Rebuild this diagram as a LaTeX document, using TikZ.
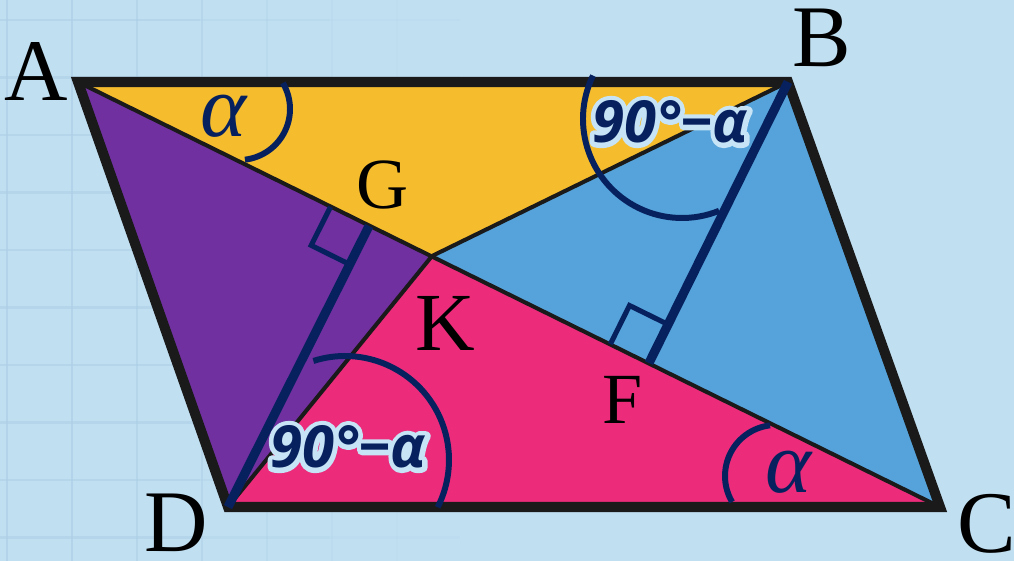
\documentclass[tikz,border=0pt]{standalone}
\usepackage{fontspec}
\setmainfont{Liberation Serif}
\newfontfamily\lblfont{Open Sans}
\usetikzlibrary{calc}
\definecolor{bgblue}{HTML}{C0DFF1}
\definecolor{gridblue}{HTML}{ADCFE6}
\definecolor{navy}{HTML}{07215F}
\definecolor{edge}{HTML}{1A1A1A}
\definecolor{fyellow}{HTML}{F5BD2E}
\definecolor{fpurple}{HTML}{70309F}
\definecolor{fblue}{HTML}{55A3DA}
\definecolor{fpink}{HTML}{EC2C7B}
% text with a light-blue halo: stroked copy underneath, filled copy on top
\newcommand\halotext[1]{\leavevmode\rlap{\special{pdf:literal direct 1 Tr 5.5 w 1 j 1 J 0.776 0.894 0.965 RG}#1\special{pdf:literal direct 0 Tr}}#1}
\tikzset{
  gridline/.style={gridblue, line width=1.2pt},
  outline/.style={edge, line width=5.7pt, line join=miter},
  inner/.style={edge, line width=2.3pt},
  perp/.style={navy, line width=5.2pt},
  rightsq/.style={navy, line width=2.9pt, line join=miter},
  anglearc/.style={navy, line width=3.4pt},
  vlabel/.style={inner sep=0pt, font=\fontsize{50}{60}\selectfont},
  plabel/.style={inner sep=0pt, font=\fontsize{41}{50}\selectfont},
  alabel/.style={inner sep=0pt, text=navy, font=\fontsize{50}{60}\selectfont\itshape},
  dlabel/.style={inner sep=0pt, text=navy, font=\fontsize{33}{40}\selectfont\lblfont\bfseries\itshape}
}
\begin{document}
\begin{tikzpicture}[x=0.02cm, y=-0.02cm]
\useasboundingbox (0,0) rectangle (1014,561);
\fill[bgblue] (0,0) rectangle (1014,561);
% faint grid, fading to the right
\foreach \k/\op in {0/0.7,1/0.7,2/0.6,3/0.5,4/0.35,5/0.2,6/0.1}{
  \draw[gridline, opacity=\op] ({7+65*\k},0) -- ({7+65*\k},561);
}
\foreach \k in {0,...,9}{
  \draw[gridline, opacity=0.6] (0,{20+57.5*\k}) -- (200,{20+57.5*\k});
  \draw[gridline, opacity=0.35] (200,{20+57.5*\k}) -- (330,{20+57.5*\k});
  \draw[gridline, opacity=0.15] (330,{20+57.5*\k}) -- (460,{20+57.5*\k});
}
% vertices
\coordinate (A) at (78,82);
\coordinate (B) at (788,82);
\coordinate (C) at (940,507);
\coordinate (D) at (228,507);
\coordinate (P) at (432,256);
\coordinate (F) at (649,363);
\coordinate (G) at (369,226);
% coloured triangles
\fill[fyellow] (A) -- (B) -- (P) -- cycle;
\fill[fpurple] (A) -- (P) -- (D) -- cycle;
\fill[fblue] (B) -- (C) -- (P) -- cycle;
\fill[fpink] (D) -- (P) -- (C) -- cycle;
% inner segments
\draw[inner] (A) -- (C);
\draw[inner] (B) -- (P);
\draw[inner] (D) -- (P);
% parallelogram
\draw[outline] (A) -- (B) -- (C) -- (D) -- cycle;
% perpendiculars
\draw[perp] (B) -- (F);
\draw[perp] (D) -- (G);
% right-angle marks
\coordinate (Ga) at ($(G)!0.86cm!(A)$);
\coordinate (Gd) at ($(G)!0.86cm!(D)$);
\draw[rightsq] (Ga) -- ($(Ga)+(Gd)-(G)$) -- (Gd);
\coordinate (Fa) at ($(F)!0.86cm!(A)$);
\coordinate (Fb) at ($(F)!0.86cm!(B)$);
\draw[rightsq] (Fa) -- ($(Fa)+(Fb)-(F)$) -- (Fb);
% angle arcs
\draw[anglearc] (239,109) ++(-30.6:51) arc[start angle=-30.6, end angle=83.3, radius=51];
\draw[anglearc] (776,476) ++(263.3:51) arc[start angle=263.3, end angle=149.4, radius=51];
\draw[anglearc] (682,119) ++(206:99) arc[start angle=206, end angle=68, radius=99];
\draw[anglearc] (345,460) ++(-107.7:104) arc[start angle=-107.7, end angle=27, radius=104];
% vertex labels
\node[vlabel] (lA) at (36,72) {A};
\node[vlabel] (lB) at (822,38) {B};
\node[vlabel] (lC) at (987,524) {C};
\node[vlabel] (lD) at (176,523) {D};
\node[plabel] (lG) at (383,185) {G};
\node[inner sep=0pt, font=\fontsize{47}{56}\selectfont] (lK) at (445,323) {K};
\node[plabel] (lF) at (623,400) {F};
% angle labels
\node[alabel] (alA) at (224,116) {α};
\node[alabel] (alC) at (789,472) {α};
\node[dlabel] (dlB) at (670,122) {\halotext{90°−α}};
\node[dlabel] (dlD) at (348,447) {\halotext{90°−α}};
\end{tikzpicture}
\end{document}
